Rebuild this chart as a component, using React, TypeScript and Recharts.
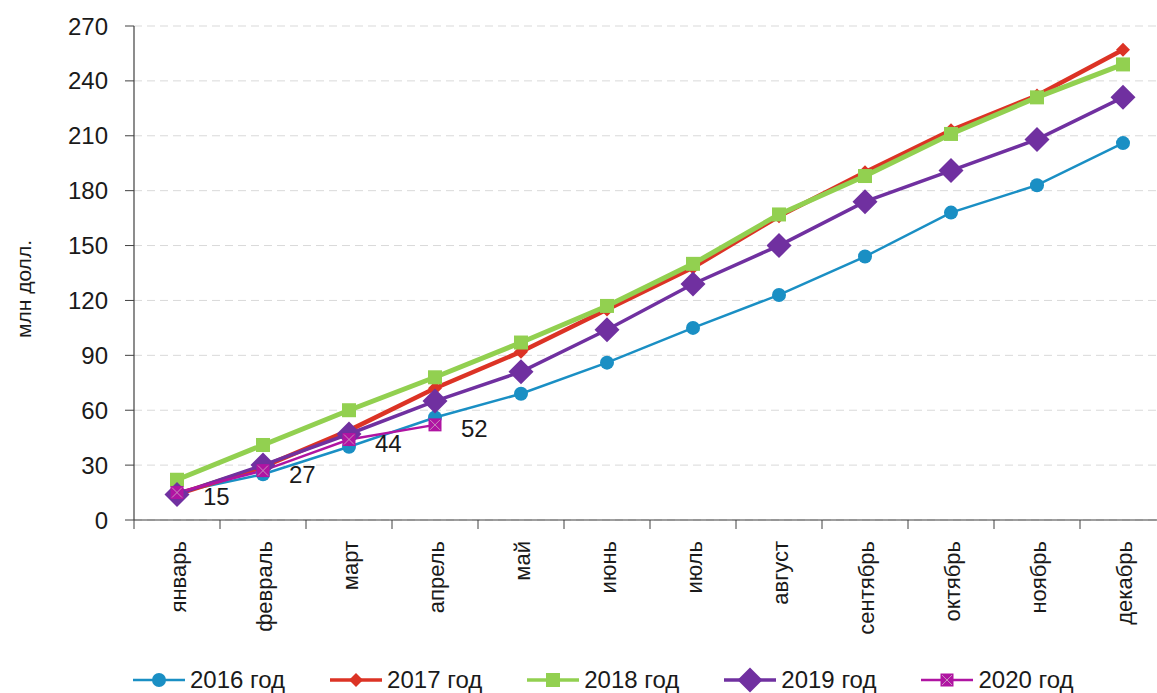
import { LineChart, Line, XAxis, YAxis, CartesianGrid, Legend, LabelList } from 'recharts';

const MONTHS = ['январь', 'февраль', 'март', 'апрель', 'май', 'июнь', 'июль', 'август', 'сентябрь', 'октябрь', 'ноябрь', 'декабрь'];
const Y2016 = [15, 25, 40, 56, 69, 86, 105, 123, 144, 168, 183, 206];
const Y2017 = [14, 29, 49, 72, 92, 115, 138, 166, 190, 213, 232, 257];
const Y2018 = [22, 41, 60, 78, 97, 117, 140, 167, 188, 211, 231, 249];
const Y2019 = [14, 30, 47, 65, 81, 104, 129, 150, 174, 191, 208, 231];
const Y2020 = [15, 27, 44, 52];
const Y_TICKS = [0, 30, 60, 90, 120, 150, 180, 210, 240, 270];

const FONT = '"Liberation Sans", Arial, sans-serif';
const TEXT = '#1a1a1a';
const AXIS = '#404040';
const BAND = 86;

const SERIES = [
  { key: 'y2016', name: '2016 год', color: '#1a8fc4', width: 2.5, shape: 'circle' },
  { key: 'y2017', name: '2017 год', color: '#dc3325', width: 4.5, shape: 'smallDiamond' },
  { key: 'y2018', name: '2018 год', color: '#92d050', width: 5, shape: 'square' },
  { key: 'y2019', name: '2019 год', color: '#7030a0', width: 3.5, shape: 'bigDiamond' },
  { key: 'y2020', name: '2020 год', color: '#b014a2', width: 2.5, shape: 'xsquare' },
];

const data = MONTHS.map((m, i) => ({
  month: m,
  y2016: Y2016[i],
  y2017: Y2017[i],
  y2018: Y2018[i],
  y2019: Y2019[i],
  y2020: i < Y2020.length ? Y2020[i] : null,
}));

function Marker({ shape, cx, cy, color }: any) {
  switch (shape) {
    case 'circle':
      return <circle cx={cx} cy={cy} r={7} fill={color} />;
    case 'smallDiamond':
      return <polygon points={`${cx},${cy - 7} ${cx + 7},${cy} ${cx},${cy + 7} ${cx - 7},${cy}`} fill={color} />;
    case 'square':
      return <rect x={cx - 7} y={cy - 7} width={14} height={14} fill={color} />;
    case 'bigDiamond':
      return <polygon points={`${cx},${cy - 12.5} ${cx + 12.5},${cy} ${cx},${cy + 12.5} ${cx - 12.5},${cy}`} fill={color} />;
    case 'xsquare':
      return (
        <g>
          <rect x={cx - 6.5} y={cy - 6.5} width={13} height={13} fill={color} />
          <line x1={cx - 5} y1={cy - 5} x2={cx + 5} y2={cy + 5} stroke="#c98fc0" strokeWidth={1} />
          <line x1={cx - 5} y1={cy + 5} x2={cx + 5} y2={cy - 5} stroke="#c98fc0" strokeWidth={1} />
        </g>
      );
    default:
      return null;
  }
}

const makeDot = (s: any) => (props: any) => {
  const { cx, cy, index, value } = props;
  if (value == null || cx == null || cy == null) return <g key={`${s.key}-${index}`} />;
  return (
    <g key={`${s.key}-${index}`}>
      <Marker shape={s.shape} cx={cx} cy={cy} color={s.color} />
    </g>
  );
};

const MonthTick = ({ x, y, payload, index }: any) => (
  <g>
    <line x1={x - BAND / 2} y1={y} x2={x - BAND / 2} y2={y + 9} stroke={AXIS} />
    {index === MONTHS.length - 1 && <line x1={x + BAND / 2} y1={y} x2={x + BAND / 2} y2={y + 9} stroke={AXIS} />}
    <text
      transform={`translate(${x + 1},${y + 21}) rotate(-90)`}
      textAnchor="end"
      dominantBaseline="central"
      fontSize={22}
      fill={TEXT}
      fontFamily={FONT}
    >
      {payload.value}
    </text>
  </g>
);

const renderValueLabel = (props: any) => {
  const { x, y, value } = props;
  if (value == null) return null;
  return (
    <text x={x + 26} y={y + 4} dy="0.355em" fontSize={24} fill={TEXT} fontFamily={FONT}>
      {value}
    </text>
  );
};

const LegendContent = () => (
  <div style={{ height: 63, display: 'flex', alignItems: 'flex-end', paddingLeft: 133, boxSizing: 'border-box' }}>
    {SERIES.map((s) => (
      <div key={s.key} style={{ display: 'flex', alignItems: 'center', marginRight: 45, height: 26 }}>
        <svg width={52} height={26}>
          <line x1={0} y1={13} x2={52} y2={13} stroke={s.color} strokeWidth={Math.min(s.width, 3.5)} />
          <Marker shape={s.shape} cx={26} cy={13} color={s.color} />
        </svg>
        <span style={{ marginLeft: 5, fontSize: 24, color: TEXT, fontFamily: FONT, lineHeight: '26px' }}>{s.name}</span>
      </div>
    ))}
  </div>
);

export default function App() {
  return (
    <div
      style={{
        position: 'absolute',
        left: 0,
        top: 0,
        width: 1157,
        height: 693,
        overflow: 'hidden',
        background: '#fff',
        fontFamily: FONT,
      }}
    >
      <LineChart width={1166} height={693} data={data} margin={{ top: 26, right: 0, left: 0, bottom: 0 }}>
        <CartesianGrid vertical={false} stroke="#d9d9d9" strokeDasharray="8 5" />
        <XAxis
          dataKey="month"
          interval={0}
          height={110}
          padding={{ left: BAND / 2, right: BAND / 2 }}
          axisLine={{ stroke: AXIS, strokeWidth: 1.2 }}
          tickLine={false}
          tickSize={0}
          tickMargin={0}
          tick={<MonthTick />}
        />
        <YAxis
          width={134}
          domain={[0, 270]}
          ticks={Y_TICKS}
          interval={0}
          axisLine={{ stroke: AXIS, strokeWidth: 1.2 }}
          tickLine={{ stroke: AXIS }}
          tickSize={9}
          tickMargin={17}
          tick={{ fontSize: 24, fill: TEXT, fontFamily: FONT }}
          label={{
            content: () => (
              <text
                transform="translate(23,289) rotate(-90)"
                textAnchor="middle"
                dominantBaseline="central"
                fontSize={21}
                fill={TEXT}
                fontFamily={FONT}
              >
                млн долл.
              </text>
            ),
          }}
        />
        <Legend
          verticalAlign="bottom"
          content={<LegendContent />}
          wrapperStyle={{ left: 0, width: 1157, bottom: 0 }}
        />
        {SERIES.map((s) => (
          <Line
            key={s.key}
            type="linear"
            dataKey={s.key}
            name={s.name}
            stroke={s.color}
            strokeWidth={s.width}
            dot={makeDot(s)}
            activeDot={false}
            isAnimationActive={false}
            connectNulls={false}
          >
            {s.key === 'y2020' && <LabelList dataKey="y2020" content={renderValueLabel} />}
          </Line>
        ))}
      </LineChart>
    </div>
  );
}
